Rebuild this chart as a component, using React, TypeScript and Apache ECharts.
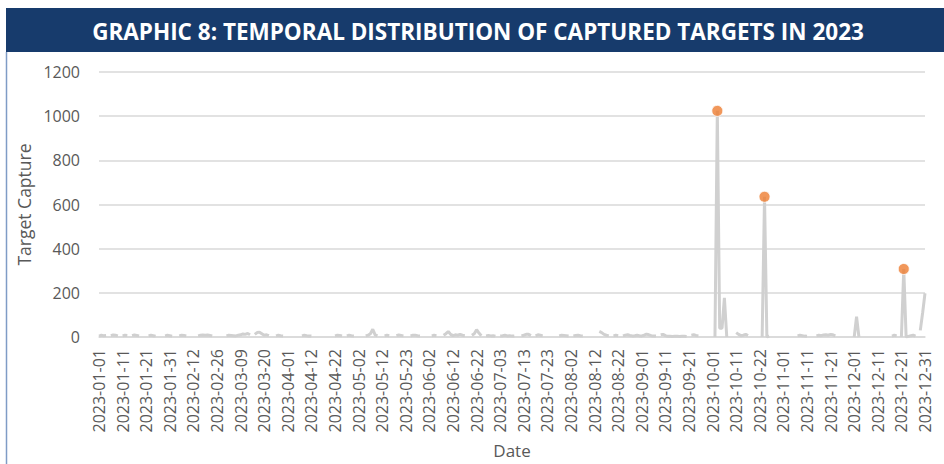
import React, { useEffect, useRef } from "react";
import * as echarts from "echarts";

const titleText = "GRAPHIC 8: TEMPORAL DISTRIBUTION OF CAPTURED TARGETS IN 2023";
const yAxisName = "Target Capture";
const xAxisName = "Date";

// Dates of 2023 that have no entry on the category axis
const missingDates = [
  "2023-02-04", "2023-02-05", "2023-02-18", "2023-02-19", "2023-02-20", "2023-02-21",
  "2023-03-04", "2023-03-12", "2023-03-25", "2023-03-26", "2023-04-08", "2023-05-20",
  "2023-06-24", "2023-10-14",
];

// Target captures per listed date (null = no value)
const captures: (number | null)[] = [
  4, 8, 6, 7, null, 6, 9, 8, 5, null,
  5, 8, 7, null, 6, 9, 7, 5, null, null,
  null, 5, 8, 6, 4, null, null, null, 5, 8,
  6, 4, null, null, 5, 8, 7, 5, null, null,
  null, null, 5, 8, 9, 8, 9, 7, 5, null,
  null, null, null, null, 5, 8, 7, 6, 5, 8,
  10, 14, 12, 16, 10, null, 12, 20, 22, 15,
  8, 10, 6, null, null, 5, 8, 6, 5, null,
  null, null, null, null, null, null, 5, 8, 6, 5,
  4, null, null, null, null, null, null, null, null, null,
  5, 8, 7, 5, null, 5, 8, 6, 5, null,
  null, null, null, 5, 8, 15, 35, 10, 5, null,
  null, 5, 8, 6, null, null, 6, 9, 7, 5,
  null, null, 5, 8, 8, 6, 5, null, null, null,
  null, 5, 8, 6, null, null, 8, 15, 25, 12,
  6, 10, 8, 12, 8, 6, null, null, 8, 15,
  33, 18, 6, null, 5, 7, 5, 6, 4, null,
  5, 6, 8, 5, 6, 4, 5, null, null, 5,
  8, 12, 12, 6, null, 5, 10, 8, 5, null,
  null, null, null, null, null, 5, 8, 7, 6, 5,
  null, 5, 7, 8, 6, 5, null, null, null, null,
  null, null, 25, 20, 12, 8, 5, null, 5, 8,
  6, null, 5, 8, 10, 7, 5, 6, 8, 6,
  5, 8, 13, 10, 6, 5, 4, null, 10, 12,
  6, 3, 3, 2, 3, 3, 2, 3, 3, 2,
  null, 8, 10, 7, 5, null, null, null, null, null,
  null, 0, 1024, 40, 40, 177, 0, null, null, null,
  20, 12, 6, 8, 12, 6, null, null, null, null,
  null, 0, 635, 0, 4, null, null, null, null, null,
  null, null, null, null, null, null, 5, 8, 6, 4,
  3, null, null, null, 5, 8, 6, 9, 10, 8,
  12, 10, 5, null, null, null, null, null, null, null,
  0, 92, 0, null, null, null, null, null, null, null,
  null, null, null, null, null, null, 4, 8, 5, null,
  0, 308, 0, 3, 6, 8, 4, null, 30, 110,
  198,
];

// Dates whose values are marked with an orange dot
const highlightDates = ["2023-10-03", "2023-10-24", "2023-12-22"];

function buildCategories(): string[] {
  const out: string[] = [];
  const d = new Date(Date.UTC(2023, 0, 1));
  while (d.getUTCFullYear() === 2023) {
    const s = d.toISOString().slice(0, 10);
    if (!missingDates.includes(s)) out.push(s);
    d.setUTCDate(d.getUTCDate() + 1);
  }
  return out;
}

export default function App() {
  const ref = useRef<HTMLDivElement>(null);
  useEffect(() => {
    if (!ref.current) return;
    const chart = echarts.init(ref.current, null, { renderer: "svg" });
    const categories = buildCategories();
    const markers = highlightDates.map((d) => [d, captures[categories.indexOf(d)]]);
    const font = "'Open Sans', sans-serif";
    chart.setOption({
      animation: false,
      backgroundColor: "#ffffff",
      textStyle: { fontFamily: font },
      graphic: [
        {
          type: "rect",
          shape: { x: 6, y: 8, width: 938, height: 44 },
          style: { fill: "#173b6c" },
          silent: true,
        },
        {
          type: "line",
          shape: { x1: 6.5, y1: 52, x2: 6.5, y2: 464 },
          style: { stroke: "#7f9cc6", lineWidth: 1.5 },
          silent: true,
        },
        {
          type: "text",
          x: 478,
          y: 31,
          style: {
            text: titleText,
            fill: "#ffffff",
            font: "bold 22.5px 'Open Sans', sans-serif",
            textAlign: "center",
            textVerticalAlign: "middle",
          },
          silent: true,
        },
      ],
      grid: { left: 99, right: 19, top: 72, bottom: 127, outerBoundsMode: "none", containLabel: false },
      xAxis: {
        type: "category",
        data: categories,
        boundaryGap: false,
        name: xAxisName,
        nameLocation: "middle",
        nameGap: 105,
        nameTextStyle: { color: "#595959", fontSize: 17, fontFamily: font },
        axisLine: { lineStyle: { color: "#d9d9d9", width: 1.5 } },
        axisTick: { show: false },
        axisLabel: {
          interval: 9,
          rotate: 90,
          margin: 12,
          color: "#595959",
          fontSize: 16,
          fontFamily: font,
        },
        splitLine: { show: false },
      },
      yAxis: {
        type: "value",
        min: 0,
        max: 1200,
        interval: 200,
        name: yAxisName,
        nameLocation: "middle",
        nameGap: 64,
        nameTextStyle: { color: "#595959", fontSize: 17.5, fontFamily: font },
        axisLine: { show: false },
        axisTick: { show: false },
        axisLabel: {
          margin: 19,
          color: "#595959",
          fontSize: 16,
          fontFamily: font,
          formatter: (v: number) => String(v),
        },
        splitLine: { lineStyle: { color: "#d9d9d9", width: 1.5 } },
      },
      series: [
        {
          type: "line",
          data: captures,
          showSymbol: false,
          symbol: "none",
          connectNulls: false,
          lineStyle: { color: "#d0d0d0", width: 3 },
          itemStyle: { color: "#d0d0d0" },
          z: 2,
        },
        {
          type: "scatter",
          data: markers,
          symbol: "circle",
          symbolSize: 11,
          itemStyle: { color: "#ed7d31", borderColor: "#ffffff", borderWidth: 1 },
          z: 3,
        },
      ],
    });
    return () => chart.dispose();
  }, []);
  return (
    <div
      ref={ref}
      style={{ position: "fixed", left: 0, top: 0, width: 944, height: 464, background: "#fff" }}
    />
  );
}
